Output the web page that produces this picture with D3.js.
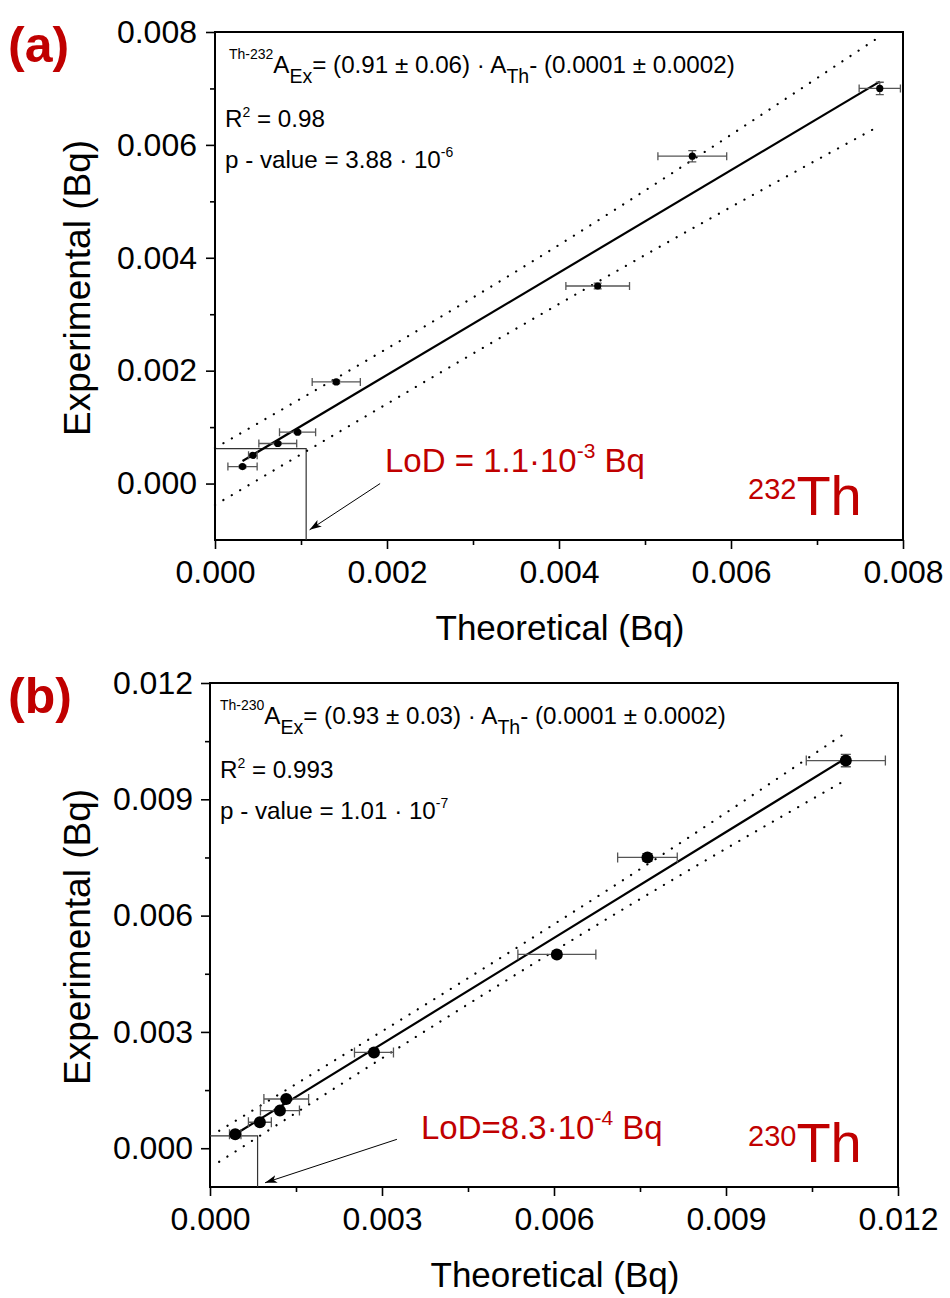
<!DOCTYPE html>
<html>
<head>
<meta charset="utf-8">
<script src="https://cdn.jsdelivr.net/npm/d3@7"></script>
<style>
body { margin: 0; background: #fff; }
text { font-family: "Liberation Sans", Arial, sans-serif; }
</style>
</head>
<body>
<script>
const width = 950, height = 1298;
const red = "#c00000";

// panel (a), Th-232
const theoA = [0.00032, 0.00044, 0.00073, 0.00096, 0.00141, 0.00445, 0.00555, 0.00773];
const expA = [0.0003, 0.0005, 0.00071, 0.00091, 0.0018, 0.0035, 0.0058, 0.0070];
const xErrA = [0.00017, 0.00005, 0.00022, 0.00021, 0.00028, 0.00037, 0.0004, 0.00024];
const yErrA = [0.00002, 0.00002, 0.00002, 0.00002, 0.00003, 0.00005, 0.0001, 0.00011];
const fitA = [[0.00032, 0.0004], [0.00773, 0.00712]];
const upperA = [[0, 0.00063], [0.00378, 0.00402], [0.00773, 0.00792]];
const lowerA = [[0, -0.00038], [0.00587, 0.00479], [0.00773, 0.00634]];
const lodA = [0.00106, 0.00062];
const arrowA = [[0.00192, 0.0], [0.00110, -0.00082]];
const xTicksA = [0, 0.002, 0.004, 0.006, 0.008];
const xMinorA = [0.001, 0.003, 0.005, 0.007];
const yTicksA = [0, 0.002, 0.004, 0.006, 0.008];
const yMinorA = [0.001, 0.003, 0.005, 0.007];

// panel (b), Th-230
const theoB = [0.00044, 0.00087, 0.00122, 0.00133, 0.00286, 0.00605, 0.00763, 0.01109];
const expB = [0.00036, 0.00067, 0.00097, 0.00127, 0.00247, 0.0050, 0.0075, 0.0100];
const xErrB = [0.0001, 0.0002, 0.00034, 0.00039, 0.00034, 0.00068, 0.00052, 0.00069];
const yErrB = [0.00003, 0.00003, 0.00003, 0.00003, 0.00005, 0.00008, 0.0001, 0.00016];
const fitB = [[0.00044, 0.00036], [0.01109, 0.01006]];
const upperB = [[0.00016, 0.00045], [0.00827, 0.00794], [0.01109, 0.01072]];
const lowerB = [[0.00016, -0.00035], [0.00827, 0.0071], [0.01109, 0.0095]];
const lodB = [0.00083, 0.00032];
const arrowB = [[0.00326, 0.00023], [0.00096, -0.00089]];
const xTicksB = [0, 0.003, 0.006, 0.009, 0.012];
const xMinorB = [0.0015, 0.0045, 0.0075, 0.0105];
const yTicksB = [0, 0.003, 0.006, 0.009, 0.012];
const yMinorB = [0.0015, 0.0045, 0.0075, 0.0105];

const svg = d3.select("body").append("svg")
    .attr("width", width)
    .attr("height", height)
    .attr("viewBox", [0, 0, width, height]);

svg.append("rect").attr("width", width).attr("height", height).attr("fill", "#fff");

const defs = svg.append("defs");
defs.append("marker")
    .attr("id", "arrow")
    .attr("viewBox", "0 -5 12 10")
    .attr("markerUnits", "userSpaceOnUse")
    .attr("markerWidth", 12)
    .attr("markerHeight", 10)
    .attr("refX", 12)
    .attr("refY", 0)
    .attr("orient", "auto")
    .append("path")
    .attr("d", "M0,-4L12,0L0,4L3,0Z")
    .attr("fill", "#000");

function panel(p) {
    const x = d3.scaleLinear().domain(p.xDomain).range([p.left, p.right]);
    const y = d3.scaleLinear().domain(p.yDomain).range([p.bottom, p.top]);
    const g = svg.append("g");

    // axes
    const fmt = d3.format(".3f");
    g.append("g")
        .attr("transform", `translate(0,${p.bottom})`)
        .call(d3.axisBottom(x).tickValues(p.xTicks).tickFormat(fmt).tickSize(9).tickPadding(11));
    g.append("g")
        .attr("transform", `translate(0,${p.bottom})`)
        .call(d3.axisBottom(x).tickValues(p.xMinor).tickFormat("").tickSize(5));
    g.append("g")
        .attr("transform", `translate(${p.left},0)`)
        .call(d3.axisLeft(y).tickValues(p.yTicks).tickFormat(fmt).tickSize(9).tickPadding(p.yPad));
    g.append("g")
        .attr("transform", `translate(${p.left},0)`)
        .call(d3.axisLeft(y).tickValues(p.yMinor).tickFormat("").tickSize(5));
    g.selectAll(".domain").remove();
    g.selectAll(".tick line").attr("stroke", "#000").attr("stroke-width", 1.6);
    g.selectAll(".tick text")
        .attr("fill", "#000")
        .style("font-size", "32px")
        .style("font-family", "'Liberation Sans', Arial, sans-serif");

    g.append("rect")
        .attr("x", p.left)
        .attr("y", p.top)
        .attr("width", p.right - p.left)
        .attr("height", p.bottom - p.top)
        .attr("fill", "none")
        .attr("stroke", "#000")
        .attr("stroke-width", 2);

    // axis titles
    g.append("text")
        .attr("x", (p.left + p.right) / 2 + 1)
        .attr("y", p.bottom + 100)
        .attr("text-anchor", "middle")
        .attr("font-size", 35)
        .text("Theoretical (Bq)");
    g.append("text")
        .attr("transform", `translate(90,${(p.top + p.bottom) / 2 + 2}) rotate(-90)`)
        .attr("text-anchor", "middle")
        .attr("font-size", 37)
        .text("Experimental (Bq)");

    // LoD construction
    g.append("path")
        .attr("d", d3.line()([[p.left, y(p.lod[1])], [x(p.lod[0]), y(p.lod[1])], [x(p.lod[0]), p.bottom]]))
        .attr("fill", "none")
        .attr("stroke", "#333")
        .attr("stroke-width", 1.2);

    const line = d3.line().x(d => x(d[0])).y(d => y(d[1]));
    const bandLine = d3.line().x(d => x(d[0])).y(d => y(d[1])).curve(d3.curveMonotoneX);

    // prediction bands
    g.selectAll(".band")
        .data([p.upper, p.lower])
        .join("path")
        .attr("d", bandLine)
        .attr("fill", "none")
        .attr("stroke", "#000")
        .attr("stroke-width", 2.2)
        .attr("stroke-linecap", "round")
        .attr("stroke-dasharray", "0.1,9.6");

    // fit line
    g.append("path")
        .attr("d", line(p.fit))
        .attr("fill", "none")
        .attr("stroke", "#000")
        .attr("stroke-width", 2.2);

    const pts = p.theo.map((t, i) => ({ t, e: p.exp[i], xe: p.xErr[i], ye: p.yErr[i] }));
    const err = g.append("g").attr("stroke", "#555").attr("stroke-width", 1.3).attr("fill", "none");
    const cap = p.cap;
    err.selectAll(".xe")
        .data(pts)
        .join("path")
        .attr("d", d => {
            const x0 = x(d.t - d.xe), x1 = x(d.t + d.xe), yy = y(d.e);
            return `M${x0},${yy}H${x1}M${x0},${yy - cap}V${yy + cap}M${x1},${yy - cap}V${yy + cap}`;
        });
    err.selectAll(".ye")
        .data(pts)
        .join("path")
        .attr("d", d => {
            const y0 = y(d.e - d.ye), y1 = y(d.e + d.ye), xx = x(d.t);
            return `M${xx},${y0}V${y1}M${xx - cap},${y0}H${xx + cap}M${xx - cap},${y1}H${xx + cap}`;
        });

    g.selectAll(".pt")
        .data(pts)
        .join("circle")
        .attr("cx", d => x(d.t))
        .attr("cy", d => y(d.e))
        .attr("r", p.r)
        .attr("fill", "#000");

    // arrow to LoD
    g.append("path")
        .attr("d", line(p.arrow))
        .attr("stroke", "#000")
        .attr("stroke-width", 1)
        .attr("marker-end", "url(#arrow)");

    // equation block
    const eq = g.append("text")
        .attr("x", p.left + p.eqDx)
        .attr("y", p.top + 41)
        .attr("font-size", 24.2);
    eq.append("tspan").attr("font-size", 14).attr("dy", -14).text(p.iso);
    eq.append("tspan").attr("dy", 14).text("A");
    eq.append("tspan").attr("font-size", 19.5).attr("dy", 10).text("Ex");
    eq.append("tspan").attr("dy", -10).text(`= (${p.slope}) · A`);
    eq.append("tspan").attr("font-size", 19.5).attr("dy", 10).text("Th");
    eq.append("tspan").attr("dy", -10).text(`- (${p.intercept})`);

    const r2 = g.append("text")
        .attr("x", p.left + 10)
        .attr("y", p.top + 95)
        .attr("font-size", 24.2);
    r2.append("tspan").text("R");
    r2.append("tspan").attr("font-size", 14).attr("dy", -10).text("2");
    r2.append("tspan").attr("dy", 10).text(` = ${p.r2}`);

    const pv = g.append("text")
        .attr("x", p.left + 10)
        .attr("y", p.top + 136)
        .attr("font-size", 24.2);
    pv.append("tspan").text(`p - value = ${p.pval} · 10`);
    pv.append("tspan").attr("font-size", 14).attr("dy", -11).text(p.pexp);

    // LoD label
    const lod = g.append("text")
        .attr("x", p.lodX)
        .attr("y", p.lodY)
        .attr("font-size", 33)
        .attr("fill", red);
    lod.append("tspan").text(p.lodText);
    lod.append("tspan").attr("font-size", 21).attr("dy", -14).text(p.lodExp);
    lod.append("tspan").attr("dy", 14).text(" Bq");

    // isotope label
    const iso = g.append("text")
        .attr("x", 748)
        .attr("y", p.bottom - 25)
        .attr("font-size", 56)
        .attr("fill", red);
    iso.append("tspan").attr("font-size", 29).attr("dy", -16).text(p.mass);
    iso.append("tspan").attr("dy", 16).text("Th");

    // panel letter
    svg.append("text")
        .attr("x", 8)
        .attr("y", p.top + 30)
        .attr("font-size", 50)
        .attr("font-weight", "bold")
        .attr("fill", red)
        .text(p.letter);
}

panel({
    letter: "(a)", left: 215, right: 903, top: 32, bottom: 540, yPad: 9,
    xDomain: [0, 0.008], yDomain: [-0.001, 0.008],
    xTicks: xTicksA, xMinor: xMinorA, yTicks: yTicksA, yMinor: yMinorA,
    theo: theoA, exp: expA, xErr: xErrA, yErr: yErrA,
    fit: fitA, upper: upperA, lower: lowerA, lod: lodA, arrow: arrowA,
    r: 3.6, cap: 4,
    eqDx: 14, iso: "Th-232", slope: "0.91 ± 0.06", intercept: "0.0001 ± 0.0002",
    r2: "0.98", pval: "3.88", pexp: "-6",
    lodX: 385, lodY: 472, lodText: "LoD = 1.1·10", lodExp: "-3", mass: "232"
});

panel({
    letter: "(b)", left: 210, right: 898, top: 683, bottom: 1187, yPad: 8,
    xDomain: [0, 0.012], yDomain: [-0.001, 0.012],
    xTicks: xTicksB, xMinor: xMinorB, yTicks: yTicksB, yMinor: yMinorB,
    theo: theoB, exp: expB, xErr: xErrB, yErr: yErrB,
    fit: fitB, upper: upperB, lower: lowerB, lod: lodB, arrow: arrowB,
    r: 6, cap: 5,
    eqDx: 10, iso: "Th-230", slope: "0.93 ± 0.03", intercept: "0.0001 ± 0.0002",
    r2: "0.993", pval: "1.01", pexp: "-7",
    lodX: 421, lodY: 1139, lodText: "LoD=8.3·10", lodExp: "-4", mass: "230"
});
</script>
</body>
</html>
